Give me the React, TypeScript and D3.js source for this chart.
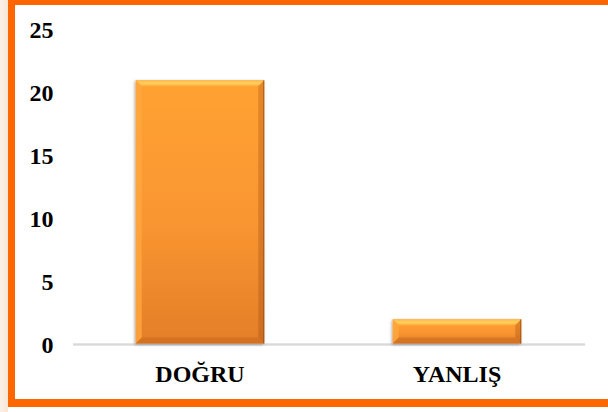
import React from "react";
import * as d3 from "d3";

const categories = ["DOĞRU", "YANLIŞ"];
const values = [21, 2];
const yTicks = [0, 5, 10, 15, 20, 25];

const W = 608;
const H = 412;

export default function App() {
  const x = d3.scaleBand<string>().domain(categories).range([71.5, 585.5]).paddingInner(0.5).paddingOuter(0.25);
  const y = d3.scaleLinear().domain([0, 25]).range([344.5, 30]);
  const bw = x.bandwidth();
  const font = "'Liberation Serif', 'Times New Roman', serif";
  const bev = 6;

  return (
    <svg width={W} height={H} style={{ position: "absolute", left: 0, top: 0, background: "#fff" }}>
      <defs>
        <linearGradient id="body" x1="0" y1="0" x2="0" y2="1">
          <stop offset="0" stopColor="#FFA233" />
          <stop offset="0.55" stopColor="#F99530" />
          <stop offset="1" stopColor="#E47E2A" />
        </linearGradient>
        <linearGradient id="top" x1="0" y1="0" x2="0" y2="1">
          <stop offset="0" stopColor="#FFB94A" />
          <stop offset="0.5" stopColor="#FFCF5E" />
          <stop offset="1" stopColor="#FFAA3A" />
        </linearGradient>
        <linearGradient id="side" x1="0" y1="0" x2="0" y2="1">
          <stop offset="0" stopColor="#D0701F" />
          <stop offset="1" stopColor="#B8601A" />
        </linearGradient>
        <linearGradient id="beige" x1="0" y1="0" x2="1" y2="0">
          <stop offset="0" stopColor="#FBF0E6" />
          <stop offset="1" stopColor="#F8E6D6" />
        </linearGradient>
        <filter id="shadow" x="-20%" y="-20%" width="140%" height="140%">
          <feDropShadow dx="-1" dy="1" stdDeviation="1.5" floodColor="#000" floodOpacity="0.35" />
        </filter>
      </defs>

      <rect x={0} y={0} width={8} height={H} fill="url(#beige)" />
      <rect x={15} y={5} width={W - 15} height={394} fill="#fff" />

      {yTicks.map((t) => (
        <text key={t} x={53.5} y={y(t)} textAnchor="end" dominantBaseline="central"
          fontFamily={font} fontWeight="bold" fontSize={24} fill="#000">
          {t}
        </text>
      ))}

      <rect x={73} y={343.3} width={512} height={2.4} fill="#D9D9D9" />

      {categories.map((c, i) => {
        const x0 = x(c)!;
        const x1 = x0 + bw;
        const y0 = y(values[i]);
        const y1 = y(0) - 1;
        const b = Math.min(bev, (y1 - y0) / 2);
        return (
          <g key={c}>
            <rect x={x0} y={y0} width={bw} height={y1 - y0} fill="url(#body)" filter="url(#shadow)" />
            <polygon points={`${x0},${y0} ${x1},${y0} ${x1 - b},${y0 + b} ${x0 + b},${y0 + b}`} fill="url(#top)" />
            <polygon points={`${x0},${y0} ${x0 + b},${y0 + b} ${x0 + b},${y1 - b} ${x0},${y1}`} fill="#FFA73E" opacity={0.8} />
            <polygon points={`${x1},${y0} ${x1},${y1} ${x1 - b},${y1 - b} ${x1 - b},${y0 + b}`} fill="url(#side)" opacity={0.55} />
            <polygon points={`${x0},${y1} ${x0 + b},${y1 - b} ${x1 - b},${y1 - b} ${x1},${y1}`} fill="#C86A1E" opacity={0.6} />
            <line x1={x1 - 0.5} y1={y0} x2={x1 - 0.5} y2={y1} stroke="#8A4A14" strokeWidth={1} opacity={0.7} />
          </g>
        );
      })}

      {categories.map((c) => (
        <text key={c} x={x(c)! + bw / 2} y={382} textAnchor="middle"
          fontFamily={font} fontWeight="bold" fontSize={24} fill="#000">
          {c}
        </text>
      ))}

      <rect x={8} y={0} width={W - 8} height={5} fill="#FF6600" />
      <rect x={8} y={0} width={7} height={407} fill="#FF6600" />
      <rect x={8} y={399} width={W - 8} height={8} fill="#FF6600" />
    </svg>
  );
}
